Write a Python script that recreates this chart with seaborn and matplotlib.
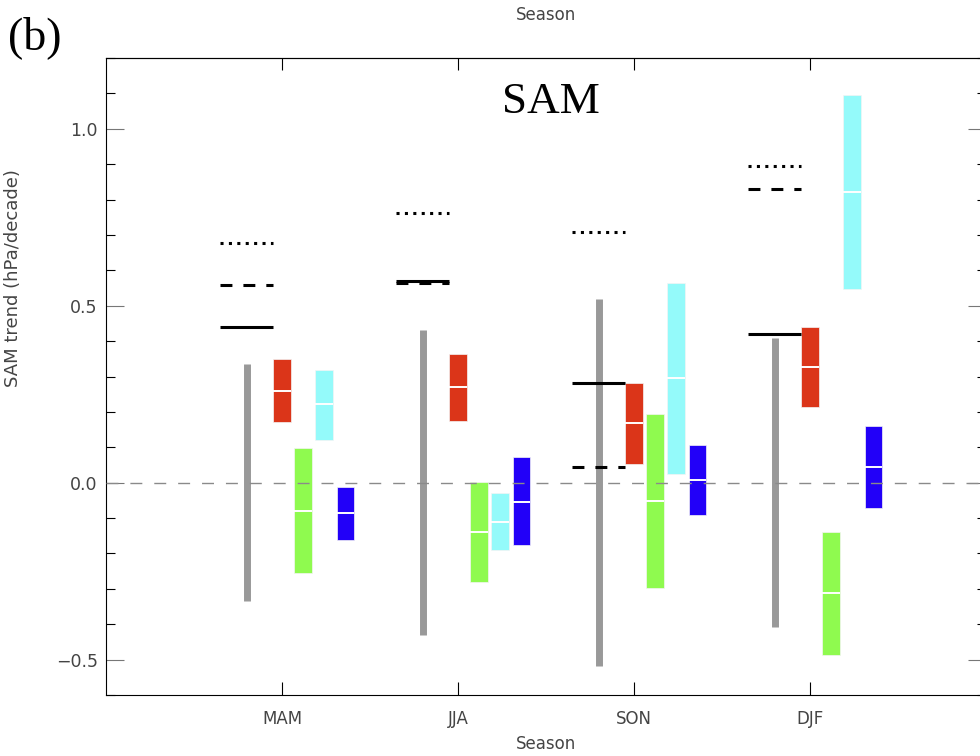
import matplotlib
matplotlib.use("Agg")
import matplotlib.pyplot as plt
from matplotlib.ticker import MultipleLocator, FixedLocator
import numpy as np
import seaborn as sns

# Seasons along the x axis
seasons = ["MAM", "JJA", "SON", "DJF"]

# Grey range bar for each season
obs_low = [-0.335, -0.431, -0.519, -0.408]
obs_high = [0.334, 0.432, 0.519, 0.409]

# Black reference trends (solid, dashed, dotted)
trend_solid = [0.44, 0.57, 0.281, 0.42]
trend_dashed = [0.558, 0.565, 0.045, 0.829]
trend_dotted = [0.677, 0.762, 0.707, 0.896]

# Ensemble boxes: low / middle / high
red_low = [0.171, 0.175, 0.054, 0.215]
red_mid = [0.260, 0.269, 0.168, 0.328]
red_high = [0.350, 0.364, 0.281, 0.441]

green_low = [-0.254, -0.280, -0.299, -0.487]
green_mid = [-0.079, -0.139, -0.053, -0.311]
green_high = [0.097, 0.002, 0.193, -0.138]

cyan_low = [0.120, -0.189, 0.025, 0.547]
cyan_mid = [0.221, -0.110, 0.295, 0.822]
cyan_high = [0.319, -0.030, 0.564, 1.095]

blue_low = [-0.161, -0.177, -0.092, -0.072]
blue_mid = [-0.087, -0.054, 0.007, 0.044]
blue_high = [-0.011, 0.072, 0.106, 0.159]

sns.set_theme(style="ticks")
plt.rcParams["font.family"] = ["DejaVu Sans"]

fig = plt.figure(figsize=(9.8, 7.56), dpi=100)
ax = fig.add_axes([106 / 980, 1 - 695 / 756, 880 / 980, 637 / 756])

x = np.arange(1, len(seasons) + 1, dtype=float)
grey_x = x - 0.2
line_half = 0.15
box_w = 0.1

# grey ranges
ax.vlines(grey_x, obs_low, obs_high, color="#999999", linewidth=5.0, zorder=2,
          capstyle="butt")

# black trend markers
lw = 2.2
ax.hlines(trend_solid, grey_x - line_half, grey_x + line_half, color="black",
          linewidth=lw, zorder=4, linestyles="solid")
ax.hlines(trend_dashed, grey_x - line_half, grey_x + line_half, color="black",
          linewidth=lw, zorder=4, linestyles=[(0, (3.9, 3.6))])
ax.hlines(trend_dotted, grey_x - line_half, grey_x + line_half, color="black",
          linewidth=lw, zorder=4, linestyles=[(0, (1.0, 1.75))])

# coloured boxes with white middle line
groups = [
    (0.0, red_low, red_mid, red_high, "#DB3519"),
    (0.12, green_low, green_mid, green_high, "#8FFA4F"),
    (0.24, cyan_low, cyan_mid, cyan_high, "#94FAFA"),
    (0.36, blue_low, blue_mid, blue_high, "#2200F8"),
]
for off, lo, mid, hi, col in groups:
    lo = np.asarray(lo)
    hi = np.asarray(hi)
    ax.bar(x + off, hi - lo, bottom=lo, width=box_w, color=col,
           edgecolor="#f4f4f4", linewidth=0.5, zorder=3)
    ax.hlines(mid, x + off - box_w / 2, x + off + box_w / 2, color="white",
              linewidth=1.4, zorder=3.5)

# zero line
ax.axhline(0.0, color="#8a8a8a", linewidth=1.0, linestyle=(0, (8.6, 8.6)),
           zorder=5)

ax.set_xlim(0, 5)
ax.set_ylim(-0.6, 1.2)

for s in ax.spines.values():
    s.set_color("black")
    s.set_linewidth(0.8)
    s.set_visible(True)

label_col = "#444444"
ax.set_xticks(x)
ax.set_xticklabels(seasons)
ax.xaxis.set_minor_locator(FixedLocator([]))
ax.tick_params(axis="x", which="major", direction="in", length=9.5, width=0.8,
               color="black", labelcolor=label_col, labelsize=12, pad=11,
               top=False, bottom=True)

ax.set_yticks([-0.5, 0.0, 0.5, 1.0])
ax.set_yticklabels(["\u22120.5", "0.0", "0.5", "1.0"])
ax.yaxis.set_minor_locator(MultipleLocator(0.1))
ax.tick_params(axis="y", which="major", direction="in", length=13, width=0.8,
               color="#777777", labelcolor=label_col, labelsize=12.5, pad=6,
               left=True, right=True)
ax.tick_params(axis="y", which="minor", direction="in", length=6.5, width=0.8,
               color="black", left=True, right=True)

ax.set_xlabel("Season", fontsize=12, color=label_col, labelpad=5)
ax.set_ylabel("SAM trend (hPa/decade)", fontsize=13, color=label_col)
ax.yaxis.set_label_coords(-0.0955, 0.655)

# top axis: ticks only, with its own title
top = ax.secondary_xaxis("top")
top.set_xticks(x)
top.set_xticklabels([])
top.tick_params(axis="x", direction="in", length=8.6, width=0.8, color="black")
top.spines["top"].set_linewidth(0.8)
top.set_xlabel("Season", fontsize=12, color=label_col, labelpad=24)

ax.text(0.506, 0.9137, "SAM", transform=ax.transAxes, ha="center",
        va="baseline", fontsize=32.5, family="Liberation Serif", color="black",
        zorder=6)
fig.text(8 / 980, 1 - 49 / 756, "(b)", ha="left", va="baseline", fontsize=33,
         family="Liberation Serif", color="black")

fig.savefig("out.png", dpi=100)
